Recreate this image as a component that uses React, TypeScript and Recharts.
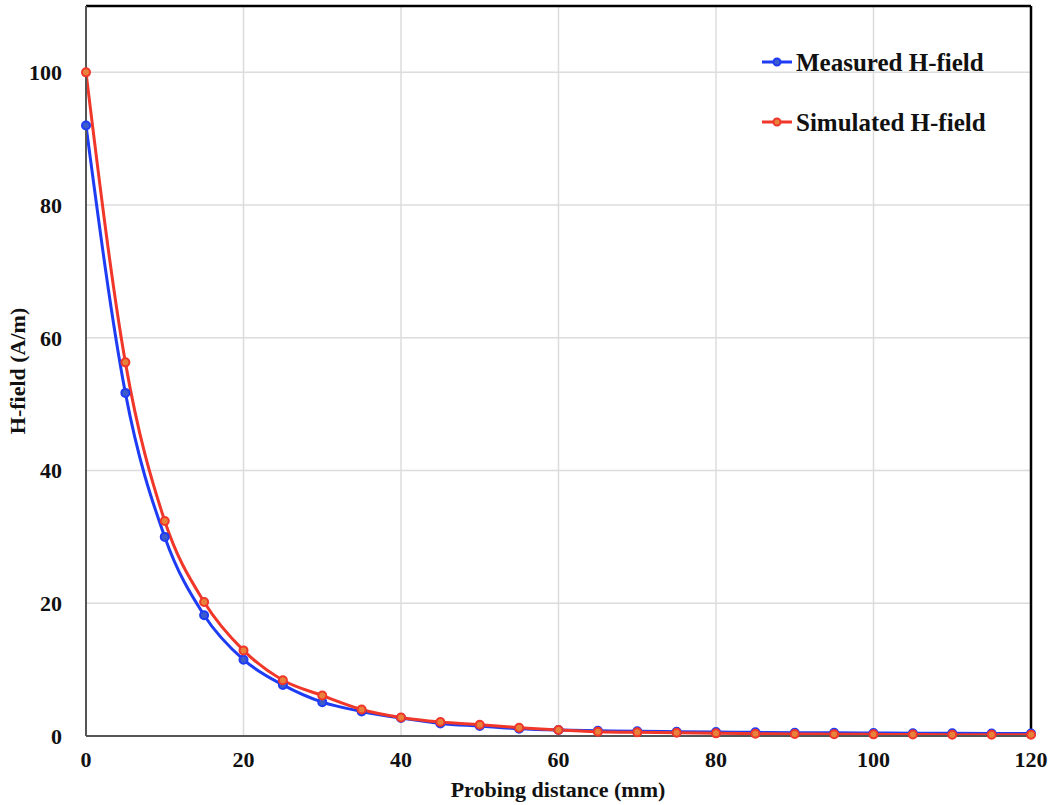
import React from 'react';
import { LineChart, Line, XAxis, YAxis, CartesianGrid, Legend, ReferenceLine } from 'recharts';

const distances = [0, 5, 10, 15, 20, 25, 30, 35, 40, 45, 50, 55, 60, 65, 70, 75, 80, 85, 90, 95, 100, 105, 110, 115, 120];
const measured = [92, 51.7, 30, 18.2, 11.5, 7.7, 5.1, 3.7, 2.7, 1.9, 1.5, 1.1, 0.9, 0.8, 0.7, 0.65, 0.6, 0.55, 0.5, 0.48, 0.45, 0.42, 0.4, 0.38, 0.36];
const simulated = [100, 56.3, 32.4, 20.2, 12.9, 8.4, 6.1, 4.0, 2.8, 2.1, 1.7, 1.25, 0.9, 0.65, 0.55, 0.5, 0.4, 0.35, 0.3, 0.28, 0.25, 0.22, 0.2, 0.2, 0.2];
const xTicks = [0, 20, 40, 60, 80, 100, 120];
const yTicks = [0, 20, 40, 60, 80, 100];

const data = distances.map((d, i) => ({ d, measured: measured[i], simulated: simulated[i] }));

const FONT = '"Liberation Serif", "Times New Roman", serif';
const BLUE = '#1f3cf5';
const RED = '#f0372a';

const legendItems = [
    { name: 'Measured H-field', color: BLUE, fill: '#3d5ccc' },
    { name: 'Simulated H-field', color: RED, fill: '#e8823a' },
];

function LegendBox() {
    return (
        <svg width={280} height={110}>
            {legendItems.map((item, i) => (
                <g key={item.name} transform={`translate(0, ${17 + i * 60})`}>
                    <line x1={2} x2={32} y1={0} y2={0} stroke={item.color} strokeWidth={3} />
                    <circle cx={17} cy={0} r={3.5} fill={item.fill} stroke={item.color} strokeWidth={2} />
                    <text x={36} y={0} dominantBaseline="central" fontFamily={FONT} fontWeight="bold" fontSize={25} fill="#111">
                        {item.name}
                    </text>
                </g>
            ))}
        </svg>
    );
}

export default function App() {
    const tick = { fill: '#111', fontSize: 22, fontWeight: 'bold', fontFamily: FONT };
    return (
        <div style={{ position: 'absolute', left: 0, top: 0, width: 1050, height: 805, background: '#fff' }}>
            <LineChart width={1050} height={805} data={data} margin={{ top: 6, right: 19, left: 0, bottom: 0 }}>
                <CartesianGrid stroke="#dcdcdc" strokeWidth={1.5} />
                <XAxis
                    dataKey="d"
                    type="number"
                    domain={[0, 120]}
                    ticks={xTicks}
                    tick={tick}
                    tickLine={false}
                    tickMargin={9}
                    axisLine={{ stroke: '#555', strokeWidth: 2 }}
                    height={69}
                    label={{
                        content: () => (
                            <text x={558} y={797} textAnchor="middle" fontFamily={FONT} fontWeight="bold" fontSize={22} fill="#111">
                                Probing distance (mm)
                            </text>
                        ),
                    }}
                />
                <YAxis
                    type="number"
                    domain={[0, 110]}
                    ticks={yTicks}
                    tick={tick}
                    tickLine={false}
                    tickMargin={18}
                    axisLine={{ stroke: '#555', strokeWidth: 2 }}
                    width={86}
                    label={{
                        content: () => (
                            <text x={25} y={371} transform="rotate(-90 25 371)" textAnchor="middle" fontFamily={FONT} fontWeight="bold" fontSize={22} fill="#111">
                                H-field (A/m)
                            </text>
                        ),
                    }}
                />
                <ReferenceLine y={110} stroke="#000" strokeWidth={2.5} />
                <ReferenceLine x={120} stroke="#000" strokeWidth={2.5} />
                <Legend
                    layout="vertical"
                    align="center"
                    verticalAlign="middle"
                    wrapperStyle={{ left: 760, top: 45, width: 280 }}
                    content={() => <LegendBox />}
                />
                <Line
                    type="monotone"
                    dataKey="measured"
                    name="Measured H-field"
                    stroke={BLUE}
                    strokeWidth={3}
                    dot={{ r: 4, fill: '#3d5ccc', stroke: BLUE, strokeWidth: 2 }}
                    isAnimationActive={false}
                />
                <Line
                    type="monotone"
                    dataKey="simulated"
                    name="Simulated H-field"
                    stroke={RED}
                    strokeWidth={3}
                    dot={{ r: 4, fill: '#e8823a', stroke: RED, strokeWidth: 2 }}
                    isAnimationActive={false}
                />
            </LineChart>
        </div>
    );
}
